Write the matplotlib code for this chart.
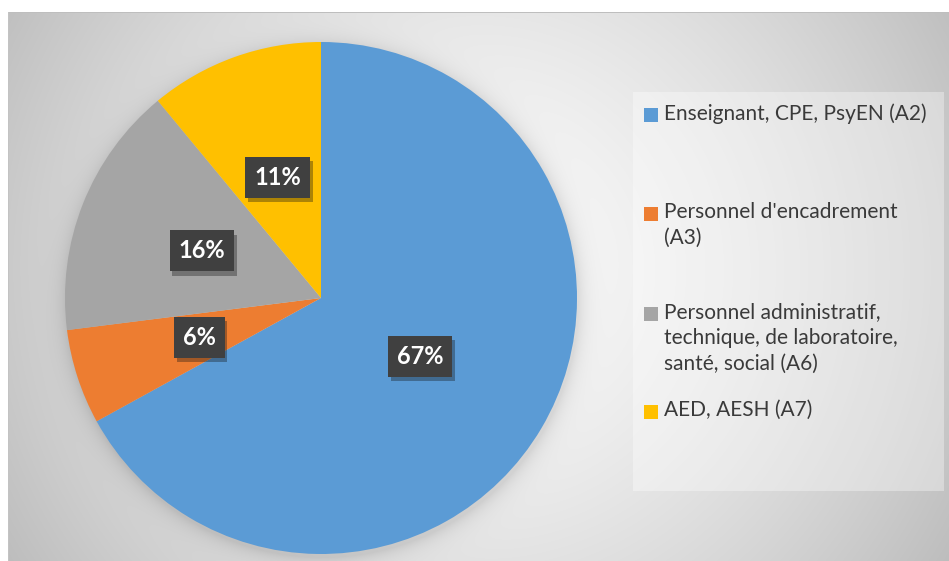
import numpy as np
import matplotlib.pyplot as plt
from matplotlib.patches import Rectangle
import matplotlib.patheffects as pe

categories = ['Enseignant, CPE, PsyEN (A2)',
              "Personnel d'encadrement\n(A3)",
              'Personnel administratif,\ntechnique, de laboratoire,\nsanté, social (A6)',
              'AED, AESH (A7)']
shares = [67, 6, 16, 11]
colors = ['#5B9BD5', '#ED7D31', '#A5A5A5', '#FFC000']

W, H = 949, 561
fig = plt.figure(figsize=(W / 100, H / 100), dpi=100)


def fx(px):
    return px / W


def fy(py):
    return 1 - py / H


# gradient background of the chart area, with a soft halo round the pie
yy, xx = np.mgrid[0:H, 0:W]
d = np.hypot(xx - 478, yy - 270) / 560
g = 250 - 62 * np.clip(d, 0, 1) ** 1.5
rp = np.hypot(xx - 322, yy - 301)
g -= 26 * np.exp(-np.clip(rp - 256, 0, None) / 9)
g[:12, :] = 255
g[:, :8] = 255
g[12, 8:] = 190
g[12:, 8] = 195
bg = fig.add_axes([0, 0, 1, 1])
bg.imshow(np.dstack([g] * 3) / 255, aspect='auto', interpolation='bilinear')
bg.axis('off')

# pie
ax = fig.add_axes([fx(321 - 256), fy(298 + 256), 512 / W, 512 / H])
wedges, texts, autotexts = ax.pie(
    shares, colors=colors, startangle=90, counterclock=False,
    autopct=lambda p: f'{p:.0f}%', pctdistance=0.5,
    wedgeprops=dict(linewidth=0))
ax.set_xlim(-1, 1)
ax.set_ylim(-1, 1)
# the big slice's label sits a little closer to the centre
x0, y0 = autotexts[0].get_position()
autotexts[0].set_position((x0 * 0.9, y0 * 0.9))
for t in autotexts:
    t.set_color('white')
    t.set_fontweight('bold')
    t.set_fontfamily('Lato')
    t.set_fontsize(17)
    t.set_bbox(dict(boxstyle='square,pad=0.38', fc='#404040', ec='none'))
    t.get_bbox_patch().set_path_effects(
        [pe.SimplePatchShadow(offset=(2, -3), alpha=0.35), pe.Normal()])

# legend box
fig.patches.append(Rectangle((fx(633), fy(491)), 311 / W, 399 / H,
                             transform=fig.transFigure, fc='white',
                             alpha=0.35, ec='none'))
first_lines = [115, 214, 314, 412]
for lab, col, y in zip(categories, colors, first_lines):
    fig.patches.append(Rectangle((fx(644), fy(y + 7)), 14 / W, 14 / H,
                                 transform=fig.transFigure, fc=col, ec='none'))
    fig.text(fx(664), fy(y - 12), lab, ha='left', va='top', fontsize=15,
             family='Lato', color='#3a3a3a', linespacing=1.38)

fig.savefig('out.png', dpi=100)
